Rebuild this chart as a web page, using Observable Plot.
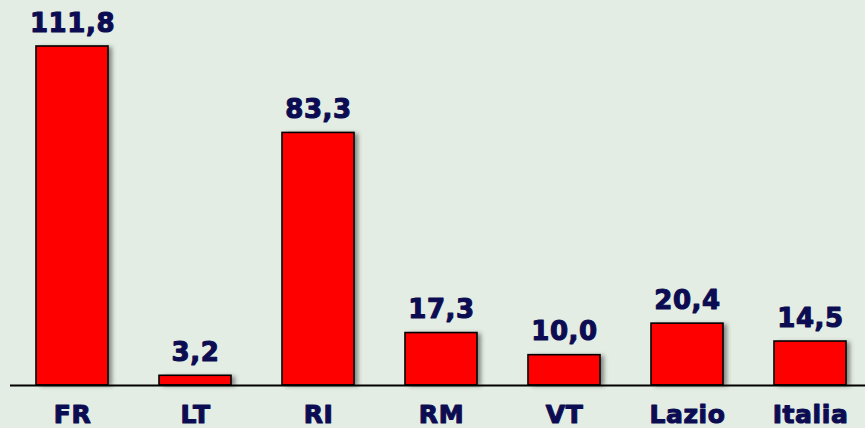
<!DOCTYPE html>
<html>
<head>
<meta charset="utf-8">
<script src="https://cdn.jsdelivr.net/npm/d3@7"></script>
<script src="https://cdn.jsdelivr.net/npm/@observablehq/plot@0.6"></script>
<style>
  html, body { margin: 0; padding: 0; background: #E3EDE3; }
  #chart svg { display: block; }
  #chart svg text { letter-spacing: 0.6px; }
</style>
</head>
<body>
<div id="chart"></div>
<script>
const categories = ["FR", "LT", "RI", "RM", "VT", "Lazio", "Italia"];
const values = [111.8, 3.2, 83.3, 17.3, 10.0, 20.4, 14.5];

const data = categories.map((c, i) => ({cat: c, value: values[i], label: values[i].toFixed(1).replace(".", ",")}));

const textColor = "#0C0C52";
const font = "'DejaVu Sans', Verdana, sans-serif";

const chart = Plot.plot({
  width: 865,
  height: 428,
  marginLeft: 10,
  marginRight: 0,
  marginTop: 0,
  marginBottom: 0,
  style: {background: "#E3EDE3", fontFamily: font},
  x: {domain: categories, range: [10.5, 871.5], paddingInner: 0.415, paddingOuter: 0.2075, axis: null},
  y: {domain: [0, 111.8], range: [385, 46], axis: null},
  marks: [
    Plot.rectY(data, {x: "cat", y: "value", fill: "#333", fillOpacity: 0.55, dx: 4, dy: 1}),
    Plot.rectY(data, {x: "cat", y: "value", fill: "#FF0000", stroke: "#000", strokeWidth: 1.6}),
    Plot.ruleY([0], {stroke: "#000", strokeWidth: 2}),
    Plot.text(data, {x: "cat", y: "value", text: "label", dy: -15, lineAnchor: "bottom", fill: textColor, stroke: textColor, strokeWidth: 1.1, fontSize: 26, fontWeight: "bold"}),
    Plot.text(data, {x: "cat", y: 0, text: "cat", dy: 37, lineAnchor: "bottom", fill: textColor, stroke: textColor, strokeWidth: 1.1, fontSize: 25, fontWeight: "bold"})
  ]
});

const svg = d3.select(chart);
svg.insert("defs", ":first-child").html('<filter id="shadowBlur" x="-20%" y="-20%" width="140%" height="140%"><feGaussianBlur stdDeviation="2"/></filter>');
svg.select('g[aria-label="rect"]').attr("filter", "url(#shadowBlur)");
document.getElementById("chart").appendChild(chart);
</script>
</body>
</html>
